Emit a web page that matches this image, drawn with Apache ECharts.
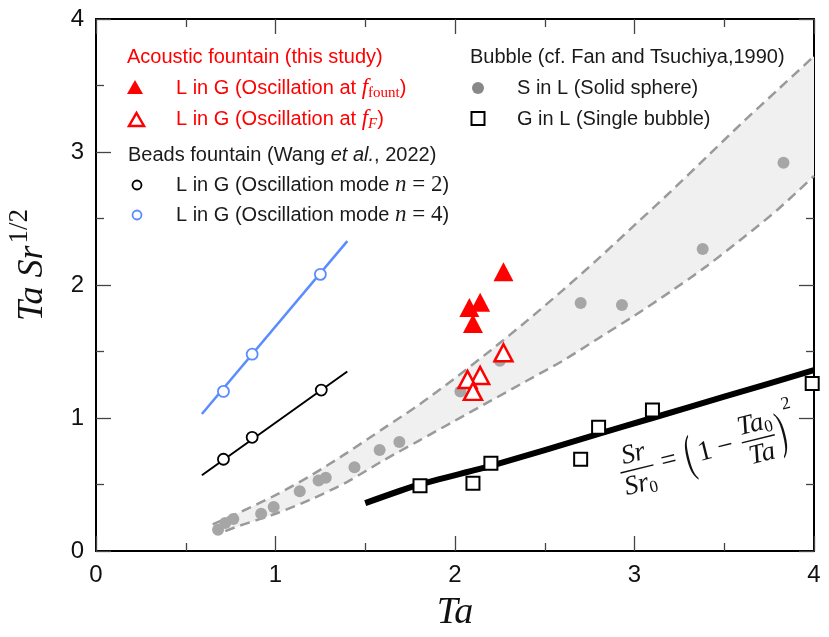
<!DOCTYPE html>
<html><head><meta charset="utf-8">
<script src="https://cdn.jsdelivr.net/npm/echarts@6/dist/echarts.min.js"></script>
<style>html,body{margin:0;padding:0;background:#fff}#c{width:829px;height:637px}</style>
</head><body><div id="c"></div>
<script>
// ---- data ----
const xTickLabels = ['0','1','2','3','4'];
const yTickLabels = ['0','1','2','3','4'];

// Acoustic fountain (this study)
const fountX = [2.27, 2.14, 2.08, 2.10];
const fountY = [2.10, 1.87, 1.83, 1.71];
const fFX    = [2.27, 2.14, 2.07, 2.10];
const fFY    = [1.49, 1.32, 1.29, 1.20];

// Beads fountain (Wang et al., 2022)
const n2X = [0.71, 0.87, 1.255];
const n2Y = [0.69, 0.855, 1.21];
const n2FitX = [0.59, 1.40];
const n2FitY = [0.57, 1.35];
const n4X = [0.71, 0.87, 1.25];
const n4Y = [1.20, 1.48, 2.08];
const n4FitX = [0.59, 1.40];
const n4FitY = [1.03, 2.33];

// Bubble (cf. Fan and Tsuchiya, 1990)
const solidX = [0.68,0.72,0.765,0.92,0.99,1.135,1.24,1.28,1.44,1.58,1.69,2.03,2.25,2.70,2.93,3.38,3.83];
const solidY = [0.16,0.21,0.24,0.28,0.33,0.45,0.53,0.55,0.63,0.76,0.82,1.20,1.43,1.865,1.85,2.27,2.92];
const bubbleX = [1.805, 2.10, 2.20, 2.70, 2.80, 3.10, 3.99];
const bubbleY = [0.49, 0.51, 0.66, 0.69, 0.93, 1.06, 1.26];
const fitX = [1.50, 1.80, 2.20, 2.80, 3.10, 3.50, 4.00];
const fitY = [0.36, 0.50, 0.64, 0.88, 1.00, 1.16, 1.36];

// band bounds
const bandUpX = [0.65,0.8,1.0,1.2,1.4,1.6,1.8,2.0,2.2,2.4,2.6,2.8,3.0,3.2,3.4,3.6,3.8,4.0];
const bandUpY = [0.20,0.29,0.42,0.57,0.74,0.92,1.10,1.30,1.51,1.73,1.96,2.20,2.45,2.70,2.96,3.22,3.47,3.72];
const bandLoX = [0.72,0.8,1.0,1.2,1.4,1.6,1.8,2.0,2.2,2.4,2.6,2.8,3.0,3.2,3.4,3.6,3.8,4.0];
const bandLoY = [0.15,0.19,0.28,0.39,0.52,0.68,0.83,0.98,1.13,1.28,1.43,1.60,1.77,1.95,2.14,2.35,2.57,2.82];

// ---- helpers ----
const zip = (xs, ys) => xs.map((x, i) => [x, ys[i]]);
const RED = '#ff0000', BLUE = '#5b8cff', GRAY = '#a6a6a6', INK = '#1a1a1a';
const SANS = 'Liberation Sans, Arial, sans-serif';
const SERIF = 'Liberation Serif, Times New Roman, serif';

const chart = echarts.init(document.getElementById('c'), null, {renderer: 'canvas'});

function axisCommon(pos, showLabel, labels) {
  return {
    type: 'value', min: 0, max: 4, interval: 1, position: pos,
    axisLine: {show: true, onZero: false, lineStyle: {color: '#000', width: 2}},
    axisTick: {show: true, inside: true, length: 15, lineStyle: {color: '#444', width: 1.3}},
    minorTick: {show: true, splitNumber: 2, length: 8, lineStyle: {color: '#444', width: 1.3}},
    splitLine: {show: false},
    axisLabel: {show: showLabel, fontSize: 24, color: '#111', fontFamily: SANS, margin: 12,
      formatter: v => labels[Math.round(v)]}
  };
}

const xBottom = Object.assign(axisCommon('bottom', true, xTickLabels), {
  name: 'Ta', nameLocation: 'middle', nameGap: 43,
  nameTextStyle: {fontFamily: SERIF, fontStyle: 'italic', fontSize: 38, color: '#111'}
});
const xTop = axisCommon('top', false, xTickLabels);
const yLeft = axisCommon('left', true, yTickLabels);
const yRight = axisCommon('right', false, yTickLabels);

const series = [
  { // gray band
    type: 'custom', xAxisIndex: 0, yAxisIndex: 0, silent: true, z: 1,
    data: [[0, 0]],
    renderItem: (params, api) => {
      const pts = zip(bandUpX, bandUpY).map(p => api.coord(p))
        .concat(zip(bandLoX, bandLoY).reverse().map(p => api.coord(p)));
      return {type: 'polygon', shape: {points: pts}, style: {fill: '#f0f0f0'}};
    }
  },
  {type: 'line', data: zip(bandUpX, bandUpY), smooth: 0.3, showSymbol: false, z: 2,
   lineStyle: {color: '#9a9a9a', width: 2.5, type: [10, 6]}},
  {type: 'line', data: zip(bandLoX, bandLoY), smooth: 0.3, showSymbol: false, z: 2,
   lineStyle: {color: '#9a9a9a', width: 2.5, type: [10, 6]}},
  {type: 'scatter', data: zip(solidX, solidY), symbol: 'circle', symbolSize: 12, z: 3,
   itemStyle: {color: GRAY, opacity: 1}},
  {type: 'line', data: zip(fitX, fitY), showSymbol: false, smooth: 0.2, z: 4,
   lineStyle: {color: '#000', width: 6}},
  {type: 'scatter', data: zip(bubbleX, bubbleY), symbol: 'rect', symbolSize: 13, z: 5,
   itemStyle: {color: '#fff', borderColor: '#000', borderWidth: 2, opacity: 1}},
  {type: 'line', data: zip(n2FitX, n2FitY), showSymbol: false, z: 4,
   lineStyle: {color: '#000', width: 2}},
  {type: 'scatter', data: zip(n2X, n2Y), symbol: 'circle', symbolSize: 11, z: 5,
   itemStyle: {color: '#fff', borderColor: '#000', borderWidth: 1.8, opacity: 1}},
  {type: 'line', data: zip(n4FitX, n4FitY), showSymbol: false, z: 4,
   lineStyle: {color: BLUE, width: 2.5}},
  {type: 'scatter', data: zip(n4X, n4Y), symbol: 'circle', symbolSize: 11, z: 5,
   itemStyle: {color: '#fff', borderColor: BLUE, borderWidth: 1.8, opacity: 1}},
  {type: 'scatter', data: zip(fountX, fountY), symbol: 'triangle', symbolSize: [20, 19], z: 6,
   itemStyle: {color: RED, opacity: 1}},
  {type: 'scatter', data: zip(fFX, fFY), symbol: 'triangle', symbolSize: [18, 17], z: 6,
   itemStyle: {color: '#fff', borderColor: RED, borderWidth: 2.5, opacity: 1}}
];
series.forEach(s => { s.animation = false; if (s.type !== 'custom') s.silent = true; });

// ---- legend / annotations as graphic ----
function txt(x, y, text, rich, fill) {
  return {
    type: 'text', x: x, y: y, silent: true, z: 100,
    style: {text: text, fill: fill || INK, font: '20px ' + SANS,
      align: 'left', verticalAlign: 'middle', textAlign: 'left', textVerticalAlign: 'middle',
      rich: rich || {}}
  };
}
function tri(cx, cy, w, h, filled) {
  return {type: 'polygon', silent: true, z: 100,
    shape: {points: [[cx, cy - h / 2], [cx + w / 2, cy + h / 2], [cx - w / 2, cy + h / 2]]},
    style: filled ? {fill: RED} : {fill: '#fff', stroke: RED, lineWidth: 2.5}};
}
const richBase = {
  r:   {fontFamily: SANS, fontSize: 20, color: RED},
  b:   {fontFamily: SANS, fontSize: 20, color: INK},
  bi:  {fontFamily: SANS, fontSize: 20, color: INK, fontStyle: 'italic'},
  mi:  {fontFamily: SERIF, fontSize: 23, fontStyle: 'italic', color: RED},
  sub: {fontFamily: SERIF, fontSize: 15, color: RED, padding: [10, 0, 0, 0]},
  subi:{fontFamily: SERIF, fontSize: 15, fontStyle: 'italic', color: RED, padding: [10, 0, 0, 0]},
  nk:  {fontFamily: SERIF, fontSize: 23, fontStyle: 'italic', color: INK},
  mk:  {fontFamily: SERIF, fontSize: 23, color: INK},
  nb:  {fontFamily: SERIF, fontSize: 23, fontStyle: 'italic', color: BLUE},
  mb:  {fontFamily: SERIF, fontSize: 23, color: BLUE}
};

const fSerif = (size, italic) => (italic ? 'italic ' : '') + size + 'px ' + SERIF;
function ftxt(x, y, text, size, italic, rich, extra) {
  return Object.assign({type: 'text', x: x, y: y, silent: true,
    style: {text: text, font: fSerif(size, italic), fill: '#111',
      align: 'center', verticalAlign: 'middle', textAlign: 'center', textVerticalAlign: 'middle',
      rich: rich || {}}}, extra || {});
}
const fracRich = {
  i:  {fontFamily: SERIF, fontSize: 27, fontStyle: 'italic', color: '#111'},
  s:  {fontFamily: SERIF, fontSize: 17, color: '#111', padding: [12, 0, 0, 0]}
};

const graphic = [
  txt(127, 57, 'Acoustic fountain (this study)', null, RED),
  tri(135, 87, 16, 14, true),
  txt(176, 88, '{r|L in G (Oscillation at }{mi|f}{sub|fount}{r|)}', richBase, RED),
  tri(136.5, 119.5, 15, 13, false),
  txt(176, 119, '{r|L in G (Oscillation at }{mi|f}{subi|F}{r|)}', richBase, RED),
  txt(128, 155, '{b|Beads fountain (Wang }{bi|et al.}{b|, 2022)}', richBase),
  {type: 'circle', silent: true, z: 100, shape: {cx: 137, cy: 185, r: 4.5},
   style: {fill: '#fff', stroke: '#000', lineWidth: 1.8}},
  txt(176, 185, '{b|L in G (Oscillation mode }{nk|n}{mk| = 2}{b|)}', richBase),
  {type: 'circle', silent: true, z: 100, shape: {cx: 137, cy: 215, r: 4.5},
   style: {fill: '#fff', stroke: BLUE, lineWidth: 1.8}},
  txt(176, 215, '{b|L in G (Oscillation mode }{nb|n}{mb| = 4}{b|)}', richBase),

  txt(470, 57, 'Bubble (cf. Fan and Tsuchiya,1990)'),
  {type: 'circle', silent: true, z: 100, shape: {cx: 478, cy: 88, r: 6}, style: {fill: '#888'}},
  txt(517, 88, 'S in L (Solid sphere)'),
  {type: 'rect', silent: true, z: 100, shape: {x: 471.5, y: 112, width: 13, height: 13},
   style: {fill: '#fff', stroke: '#000', lineWidth: 2}},
  txt(517, 119, 'G in L (Single bubble)'),

  // y axis title
  {type: 'text', x: 33, y: 265, rotation: Math.PI / 2, silent: true, z: 100,
   style: {text: '{i|Ta Sr}{s|1/2}', fill: '#111', align: 'center', verticalAlign: 'middle',
     textAlign: 'center', textVerticalAlign: 'middle',
     rich: {i: {fontFamily: SERIF, fontStyle: 'italic', fontSize: 36, color: '#111'},
            s: {fontFamily: SERIF, fontSize: 27, color: '#111', padding: [0, 0, 26, 2]}}}},

  // rotated formula  Sr/Sr0 = (1 - Ta0/Ta)^2
  {type: 'group', x: 669, y: 461, rotation: 0.244, z: 100, silent: true, children: [
    ftxt(-33, -15, '{i|Sr}', 27, true, fracRich),
    {type: 'line', shape: {x1: -50, y1: 0, x2: -16, y2: 0}, style: {stroke: '#111', lineWidth: 1.5}},
    ftxt(-33, 16, '{i|Sr}{s|0}', 27, true, fracRich),
    ftxt(0, 0, '=', 28, false),
    ftxt(21, 1, '(', 32, false, null, {scaleY: 1.6, scaleX: 0.8}),
    ftxt(37, 0, '1', 28, false),
    ftxt(58, 0, '\u2212', 28, false),
    ftxt(92, -15, '{i|Ta}{s|0}', 27, true, fracRich),
    {type: 'line', shape: {x1: 75, y1: 0, x2: 109, y2: 0}, style: {stroke: '#111', lineWidth: 1.5}},
    ftxt(92, 16, '{i|Ta}', 27, true, fracRich),
    ftxt(116, 1, ')', 32, false, null, {scaleY: 1.6, scaleX: 0.8}),
    ftxt(127, -27, '2', 18, false)
  ]}
];

chart.setOption({
  animation: false,
  backgroundColor: '#fff',
  grid: {left: 96, right: 15, top: 19, bottom: 85, containLabel: false},
  xAxis: [xBottom, xTop],
  yAxis: [yLeft, yRight],
  series: series,
  graphic: graphic
});
</script>
</body></html>
